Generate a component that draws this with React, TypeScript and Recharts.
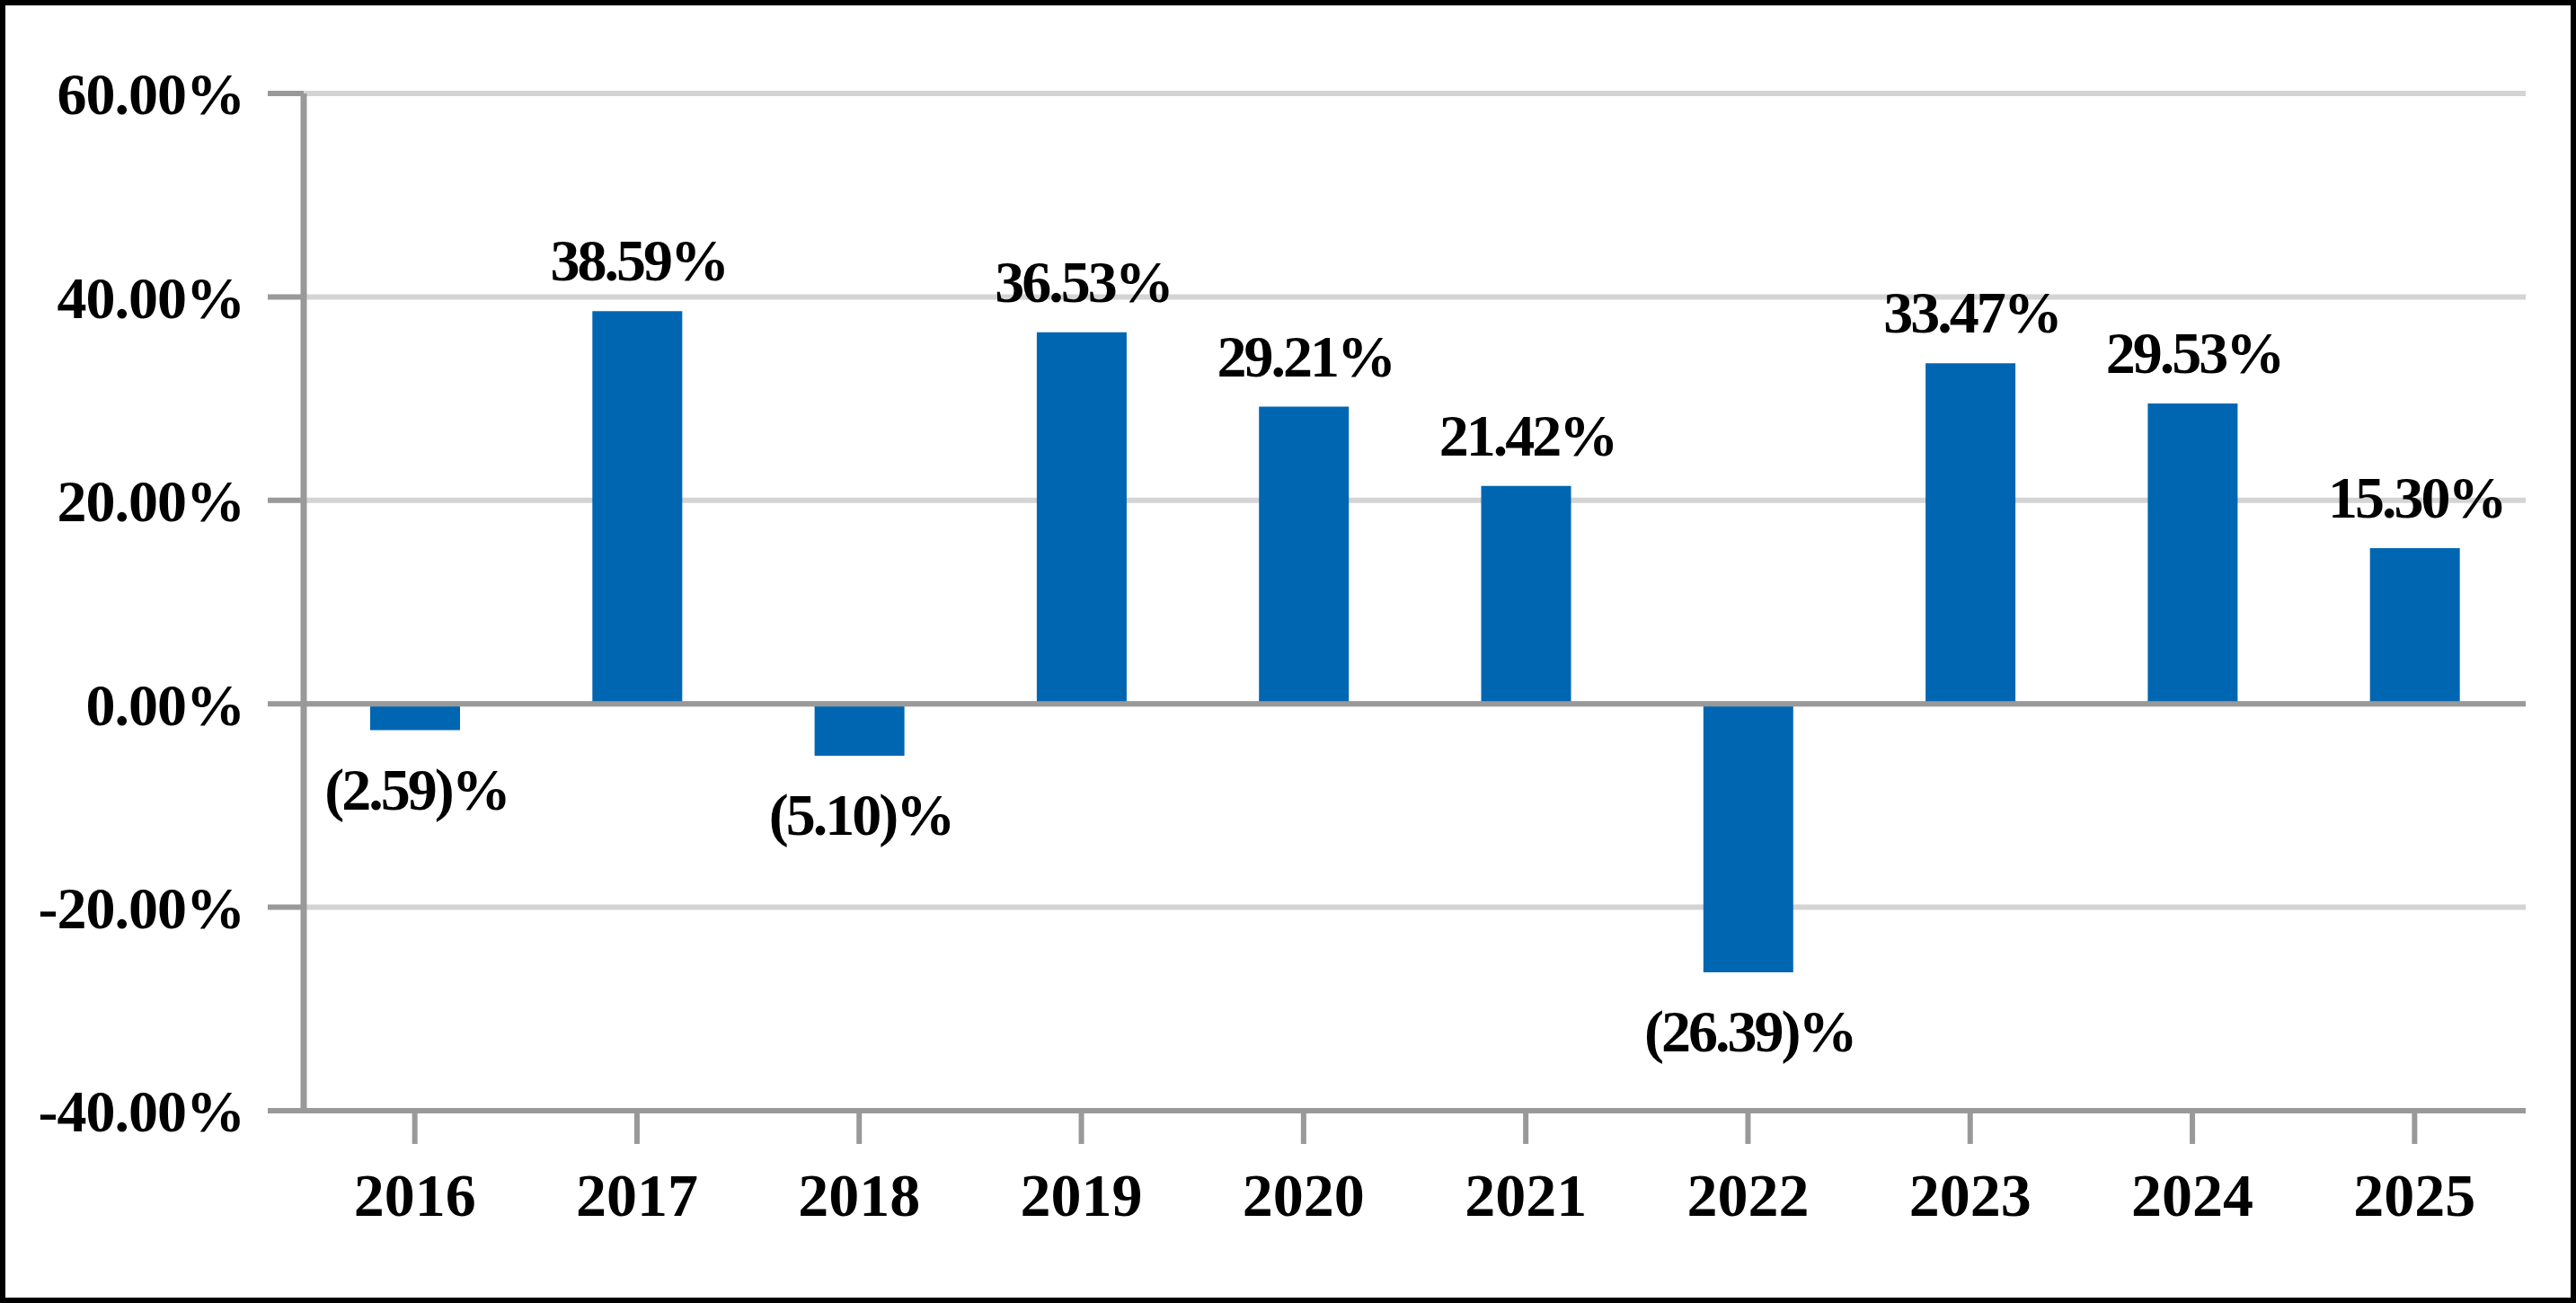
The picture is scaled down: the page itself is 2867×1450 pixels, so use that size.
import React from 'react';
import { BarChart, Bar, XAxis, YAxis, CartesianGrid, ReferenceLine, LabelList } from 'recharts';

const years = ['2016', '2017', '2018', '2019', '2020', '2021', '2022', '2023', '2024', '2025'];
const returns = [-2.59, 38.59, -5.1, 36.53, 29.21, 21.42, -26.39, 33.47, 29.53, 15.3];
const yTicks = [-40, -20, 0, 20, 40, 60];

const data = years.map((y, i) => ({ year: y, value: returns[i] }));

const FONT = '"Liberation Serif", "DejaVu Serif", serif';
const AXIS_GRAY = '#999999';
const GRID_GRAY = '#d4d4d4';
const BAR_BLUE = '#0066b2';

const fmtLabel = (v: number) => (v < 0 ? `(${Math.abs(v).toFixed(2)})%` : `${v.toFixed(2)}%`);

const ValueLabel = (props: any) => {
  const { x, y, width, height, value } = props;
  const top = Math.min(y, y + height);
  const bottom = Math.max(y, y + height);
  const cx = x + width / 2;
  const ty = value >= 0 ? top - 34 : bottom + 88;
  return (
    <text
      x={cx + 1.5}
      y={ty}
      textAnchor="middle"
      fontFamily={FONT}
      fontWeight="bold"
      fontSize={66}
      letterSpacing={-3}
      fill="#000"
    >
      {fmtLabel(value)}
    </text>
  );
};

export default function App() {
  return (
    <div
      style={{
        position: 'absolute',
        left: 0,
        top: 0,
        width: 2867,
        height: 1450,
        boxSizing: 'border-box',
        border: '6px solid #000',
        background: '#fff',
      }}
    >
      <BarChart
        width={2855}
        height={1438}
        data={data}
        margin={{ top: 98, right: 50, left: 0, bottom: 58 }}
        barSize={100}
      >
        <CartesianGrid vertical={false} stroke={GRID_GRAY} strokeWidth={6} />
        <XAxis
          dataKey="year"
          axisLine={{ stroke: AXIS_GRAY, strokeWidth: 6 }}
          tickLine={{ stroke: AXIS_GRAY, strokeWidth: 6 }}
          tickSize={37}
          tickMargin={32}
          height={150}
          tick={{ fontFamily: FONT, fontWeight: 'bold', fontSize: 68, fill: '#000' }}
        />
        <YAxis
          domain={[-40, 60]}
          ticks={yTicks}
          width={332}
          axisLine={{ stroke: AXIS_GRAY, strokeWidth: 7 }}
          tickLine={{ stroke: AXIS_GRAY, strokeWidth: 6 }}
          tickSize={40}
          tickMargin={26}
          tickFormatter={(v: number) => `${v.toFixed(2)}%`}
          tick={{ fontFamily: FONT, fontWeight: 'bold', fontSize: 66, letterSpacing: -1, fill: '#000' }}
        />
        <ReferenceLine y={0} stroke={AXIS_GRAY} strokeWidth={6} />
        <Bar dataKey="value" fill={BAR_BLUE} isAnimationActive={false}>
          <LabelList dataKey="value" content={ValueLabel} />
        </Bar>
      </BarChart>
    </div>
  );
}
